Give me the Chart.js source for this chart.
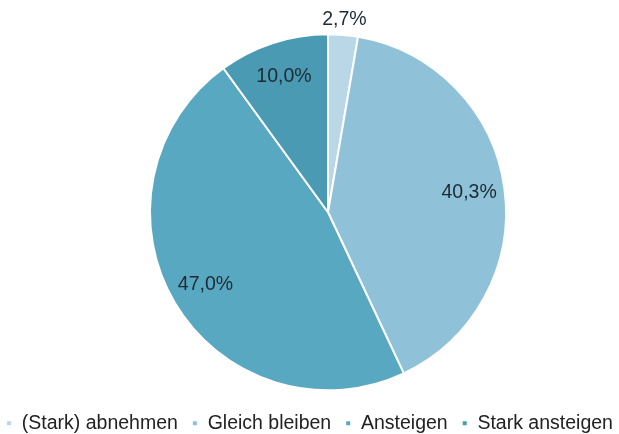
<!DOCTYPE html>
<html>
<head>
<meta charset="utf-8">
<script src="https://cdn.jsdelivr.net/npm/chart.js@4"></script>
<style>
  html, body { margin: 0; padding: 0; background: #fff; }
  #wrap { width: 619px; height: 434px; }
</style>
</head>
<body>
<div id="wrap"><canvas id="chart"></canvas></div>
<script>
// Antworten in Prozent
const categories = ['(Stark) abnehmen', 'Gleich bleiben', 'Ansteigen', 'Stark ansteigen'];
const shares = [2.7, 40.3, 47.0, 10.0];
const sliceColors = ['#b9d7e6', '#8fc2d8', '#58a8c2', '#4a9ab4'];

// Pie sitzt etwas rechts von der Mitte, Legende bleibt zentriert
const shiftPie = {
  id: 'shiftPie',
  afterLayout(chart) {
    const a = chart.chartArea;
    a.left = 37;
    a.right = 619;
    a.width = a.right - a.left;
  }
};

// Prozentwerte in bzw. neben die Segmente schreiben
const sliceLabels = {
  id: 'sliceLabels',
  afterDatasetsDraw(chart) {
    const ctx = chart.ctx;
    const meta = chart.getDatasetMeta(0);
    ctx.save();
    ctx.font = '19.5px "Liberation Sans", Arial, sans-serif';
    ctx.fillStyle = '#1e2a33';
    ctx.textAlign = 'center';
    ctx.textBaseline = 'middle';
    meta.data.forEach((arc, i) => {
      const { x, y, startAngle, endAngle, outerRadius } = arc.getProps(['x', 'y', 'startAngle', 'endAngle', 'outerRadius'], true);
      const mid = (startAngle + endAngle) / 2;
      const r = shares[i] < 5 ? outerRadius + 15 : outerRadius * 0.8;
      const text = shares[i].toFixed(1).replace('.', ',') + '%';
      ctx.fillText(text, x + Math.cos(mid) * r, y + Math.sin(mid) * r);
    });
    ctx.restore();
  }
};

new Chart(document.getElementById('chart'), {
  type: 'pie',
  data: {
    labels: categories,
    datasets: [{
      data: shares,
      backgroundColor: sliceColors,
      borderColor: '#ffffff',
      borderWidth: 2,
      radius: 178
    }]
  },
  options: {
    responsive: true,
    maintainAspectRatio: false,
    animation: false,
    layout: { padding: { top: 25, bottom: -9, left: -10, right: -10 } },
    plugins: {
      tooltip: { enabled: false },
      legend: {
        position: 'bottom',
        labels: {
          boxWidth: 6,
          boxHeight: 6,
          padding: 14,
          color: '#222',
          font: { family: '"Liberation Sans", Arial, sans-serif', size: 19.5 }
        }
      }
    }
  },
  plugins: [shiftPie, sliceLabels]
});
</script>
</body>
</html>
